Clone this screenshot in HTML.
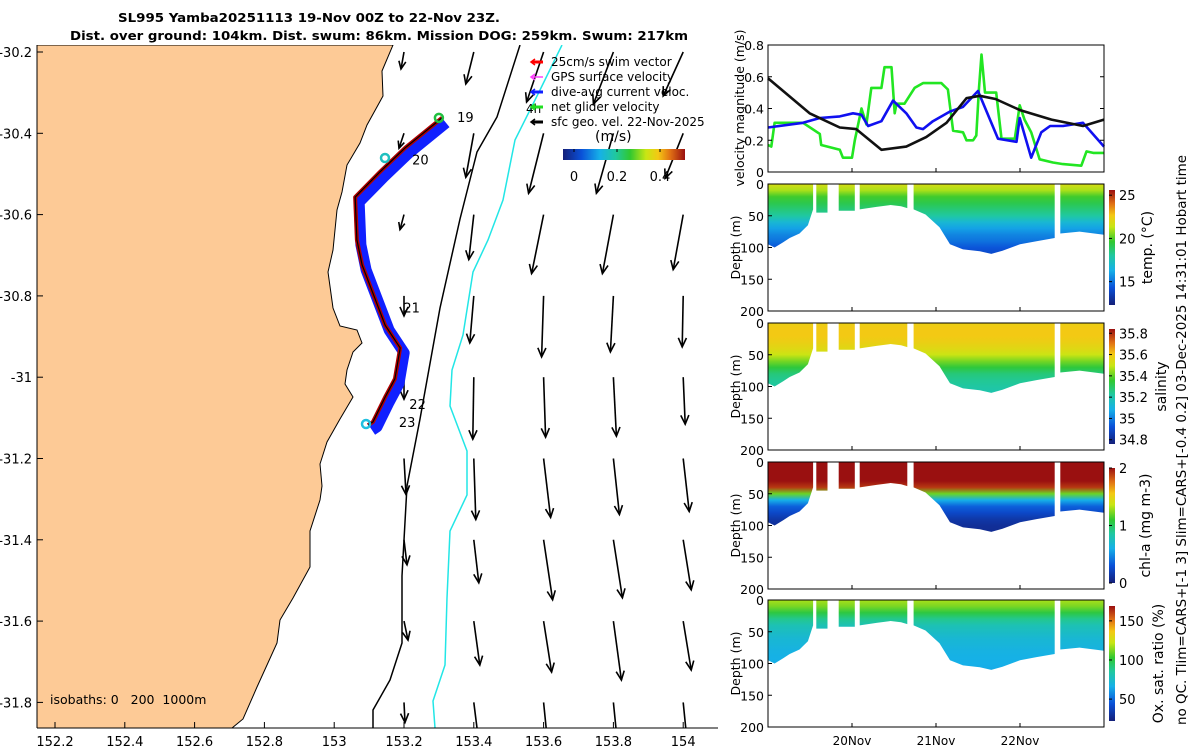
<!DOCTYPE html>
<html><head><meta charset="utf-8"><style>
html,body{margin:0;padding:0;background:#fff;}
svg{display:block;font-family:"DejaVu Sans","Liberation Sans",sans-serif;}
</style></head><body>
<svg id="fig" width="1200" height="750" viewBox="0 0 1200 750">
<defs>
<clipPath id="mapclip"><rect x="37" y="45" width="681" height="683"/></clipPath>
</defs>
<g font-weight="bold" font-size="12.5">
<text x="118" y="22" textLength="382" lengthAdjust="spacingAndGlyphs">SL995 Yamba20251113 19-Nov 00Z to 22-Nov 23Z.</text>
<text x="70" y="40" textLength="618" lengthAdjust="spacingAndGlyphs">Dist. over ground: 104km. Dist. swum: 86km. Mission DOG: 259km. Swum: 217km</text>
</g>
<g id="map"></g>
<g id="right"></g>
</svg>
<script>
const NS='http://www.w3.org/2000/svg';
function mk(tag,attrs,parent,txt){const e=document.createElementNS(NS,tag);for(const k in attrs)e.setAttribute(k,attrs[k]);if(txt!==undefined)e.textContent=txt;parent.appendChild(e);return e;}

// ---------------- DATA ----------------
const mapLonTicks=[152.2,152.4,152.6,152.8,153,153.2,153.4,153.6,153.8,154];
const mapLatTicks=[-30.2,-30.4,-30.6,-30.8,-31,-31.2,-31.4,-31.6,-31.8];
const arrowLons=[153.2,153.4,153.6,153.8,154.0];
const arrowLats=[-30.2,-30.4,-30.6,-30.8,-31,-31.2,-31.4,-31.6,-31.8];
const arrowU=[
[-0.03,-0.08,-0.17,-0.20,-0.20],
[-0.05,-0.08,-0.15,-0.17,-0.18],
[-0.04,-0.05,-0.12,-0.11,-0.10],
[0.00,-0.04,-0.02,-0.03,-0.01],
[0.00,-0.01,0.02,0.03,0.02],
[0.02,0.02,0.07,0.06,0.06],
[0.03,0.05,0.09,0.09,0.08],
[0.04,0.06,0.08,0.08,0.08],
[0.01,0.05,0.04,0.04,0.04]];
const arrowV=[
[-0.17,-0.32,-0.50,-0.52,-0.44],
[-0.15,-0.44,-0.60,-0.60,-0.45],
[-0.15,-0.45,-0.59,-0.59,-0.55],
[-0.20,-0.47,-0.61,-0.56,-0.51],
[-0.22,-0.62,-0.60,-0.59,-0.47],
[-0.36,-0.61,-0.59,-0.56,-0.53],
[-0.25,-0.43,-0.60,-0.58,-0.50],
[-0.19,-0.44,-0.51,-0.59,-0.49],
[-0.20,-0.40,-0.40,-0.40,-0.40]];
const trackLon=[153.309,153.203,153.131,153.060,153.065,153.080,153.146,153.189,153.174,153.146,153.111,153.097];
const trackLat=[-30.362,-30.436,-30.495,-30.557,-30.662,-30.724,-30.872,-30.928,-31.004,-31.049,-31.110,-31.118];
const dayLabels=['19','20','21','22','23'];
const dayLon=[153.335,153.206,153.181,153.198,153.168];
const dayLat=[-30.360,-30.465,-30.828,-31.066,-31.110];

// coast & isobaths (pixel geometry of the basemap)
const coastX=[393,382,383,367,360,347,342,337,333,328,333,340,357,362,353,347,345,353,340,327,320,322,320,310,310,293,280,277,267,257,243,232];
const coastY=[45,71,96,125,143,165,192,210,250,272,308,326,330,343,352,370,384,397,419,442,464,486,500,531,567,598,620,643,665,687,719,728];
const iso200X=[520,497,477,460,440,420,407,402,402,390,373,373];
const iso200Y=[45,117,152,219,308,419,486,576,643,680,710,728];
const iso1000X=[562,540,515,503,488,473,463,452,450,467,467,450,447,445,433,435];
const iso1000Y=[45,90,140,200,240,272,335,370,406,451,495,531,598,665,701,728];

// velocity magnitude time series (hours since 19-Nov 00Z)
const blackT=[0,11.9,20.5,25.2,32.4,39.5,45.2,51,56.7,60.5,65,72,81,90,96];
const blackV=[0.59,0.37,0.28,0.27,0.14,0.16,0.22,0.31,0.465,0.48,0.46,0.39,0.33,0.29,0.33];
const blueT=[0,10,14.8,20.5,24.3,26.7,28.6,32.4,35.7,39.5,42.4,44.3,47.1,51.9,55.7,60,65.7,71,71.9,75.2,78.1,80.6,84.3,90,96];
const blueV=[0.28,0.31,0.34,0.35,0.37,0.36,0.29,0.32,0.45,0.37,0.28,0.27,0.32,0.38,0.41,0.51,0.21,0.19,0.34,0.09,0.25,0.29,0.29,0.31,0.16];
const greenT=[0,0.95,1.9,10,14.8,15.2,20.5,21.4,24,24.8,26.7,28.1,29.5,32.4,33.3,35.3,36.2,36.7,39,41.9,44.3,49.5,51.4,52.9,55.7,56.7,58.6,59.5,60.3,61,62,65.2,66.7,70.5,71.9,73.3,75.2,77.6,81.4,84.3,89.5,91,92.9,96];
const greenV=[0.17,0.16,0.31,0.31,0.24,0.17,0.14,0.09,0.09,0.2,0.40,0.3,0.53,0.53,0.66,0.66,0.37,0.43,0.43,0.53,0.56,0.56,0.52,0.26,0.25,0.2,0.2,0.23,0.53,0.74,0.50,0.50,0.21,0.21,0.42,0.33,0.25,0.08,0.06,0.05,0.04,0.13,0.12,0.12];

// profile envelope segments (hours, max depth m)
const segT=[[0,1.9,4.3,6.2,9,11.4,12.9],[13.8,17],[20.2,24.8],[26.2,31,35,38,39.8],[41.6,45,49,52,55.7,60.5,63.8,67,72,76.7,81.9],[83.5,89,96]];
const segD=[[95,100,92,85,78,65,40],[45,45],[42,42],[40,36,33,35,38],[40,48,68,95,103,106,110,105,95,90,85],[78,75,80]];
// mean vertical profiles per variable
const profDepth=[0,10,20,30,40,50,60,70,80,90,100,110];
const tempVals=[21.8,21.0,19.8,19.2,18.6,18.0,16.8,16.0,15.4,15.0,14.4,14.0];
const salVals=[35.58,35.60,35.60,35.58,35.55,35.50,35.42,35.34,35.27,35.24,35.22,35.20];
const chlVals=[2,2,2,2,1.9,1.2,0.6,0.35,0.25,0.15,0.1,0.08];
const oxyVals=[118,112,100,88,80,76,72,70,68,67,66,65];

// ---------------- MAP ----------------
const map=document.getElementById('map');
const X=lon=>55+(lon-152.2)*349;
const Y=lat=>52+(-30.2-lat)*406.5;
const mg=mk('g',{'clip-path':'url(#mapclip)'},map);
let d='M37,45 L'+coastX[0]+','+coastY[0];
for(let i=1;i<coastX.length;i++)d+=' L'+coastX[i]+','+coastY[i];
d+=' L37,728 Z';
const land=mk('path',{d:d,fill:'#fdca96',stroke:'#000','stroke-width':1},mg);


function poly(xs,ys,col,name){let p='';for(let i=0;i<xs.length;i++)p+=(i?' ':'')+xs[i]+','+ys[i];const e=mk('polyline',{points:p,fill:'none',stroke:col,'stroke-width':1.5},mg);}
poly(iso200X,iso200Y,'#000','isobath-200m');
poly(iso1000X,iso1000Y,'#22e6e6','isobath-1000m');
const SCL=100;
function arrow(x0,y0,dx,dy,parent,w){
 const g=mk('g',{stroke:'#000','stroke-width':w||1.6,fill:'none'},parent);
 mk('line',{x1:x0,y1:y0,x2:x0+dx,y2:y0+dy},g);
 const L=Math.hypot(dx,dy)||1,ux=dx/L,uy=dy/L,h=Math.min(9,L*0.45);
 const bx=x0+dx-ux*h,by=y0+dy-uy*h;
 mk('polyline',{points:(bx-uy*h*0.45)+','+(by+ux*h*0.45)+' '+(x0+dx)+','+(y0+dy)+' '+(bx+uy*h*0.45)+','+(by-ux*h*0.45)},g);
 return g;
}
for(let r=0;r<arrowLats.length;r++)for(let c=0;c<arrowLons.length;c++){
 const a=arrow(X(arrowLons[c]),Y(arrowLats[r]),arrowU[r][c]*SCL,-arrowV[r][c]*SCL,mg);
 
 
}
let tp='';for(let i=0;i<trackLon.length;i++)tp+=(i?' ':'')+(X(trackLon[i])+4)+','+(Y(trackLat[i])+5);
const tb=mk('polyline',{points:tp,fill:'none',stroke:'#1020ff','stroke-width':11,'stroke-linejoin':'round'},mg);


tp='';for(let i=0;i<trackLon.length;i++)tp+=(i?' ':'')+X(trackLon[i])+','+Y(trackLat[i]);
const tr=mk('polyline',{points:tp,fill:'none',stroke:'#b00000','stroke-width':4,'stroke-linejoin':'round'},mg);


const tk=mk('polyline',{points:tp,fill:'none',stroke:'#000','stroke-width':1.2},mg);


for(let i=0;i<dayLabels.length;i++){
 const t=mk('text',{x:X(dayLon[i])+6,y:Y(dayLat[i])+5,'font-size':13},mg,dayLabels[i]);
 
 
}
const c1=mk('circle',{cx:X(153.3),cy:Y(-30.362),r:4,fill:'none',stroke:'#20c040','stroke-width':2.5},mg);


const c2=mk('circle',{cx:385,cy:158,r:4,fill:'none',stroke:'#20c0c0','stroke-width':2.5},mg);


const c3=mk('circle',{cx:366,cy:424,r:4,fill:'none',stroke:'#20c0e0','stroke-width':2.5},mg);


const t4=mk('text',{x:526,y:113,'font-size':12},mg,'4h');


const iso=mk('text',{x:50,y:704,'font-size':12.5},mg,'isobaths: 0\u00a0\u00a0\u00a0200\u00a0\u00a01000m');


const legTxt=['25cm/s swim vector','GPS surface velocity','dive-avg current veloc.','net glider velocity','sfc geo. vel. 22-Nov-2025'];
const legCol=['#ff0000','#ff40ff','#1020ff','#20e020','#000'];
for(let i=0;i<legTxt.length;i++){
 const y=62+i*15;
 const g=mk('g',{},map);
 
 
 mk('line',{x1:532,y1:y,x2:543,y2:y,stroke:legCol[i],'stroke-width':i==1?1.5:3},g);
 mk('polyline',{points:'535,'+(y-3)+' 531,'+y+' 535,'+(y+3),fill:'none',stroke:legCol[i],'stroke-width':1.5},g);
 mk('text',{x:551,y:y+4,'font-size':12},g,legTxt[i]);
}
const cmapStops=[[0,'#141f78'],[0.15,'#0a50d8'],[0.3,'#16b0e8'],[0.43,'#20c8a0'],[0.55,'#30c830'],[0.68,'#c8e614'],[0.78,'#f4c814'],[0.88,'#e07014'],[1,'#9a1010']];
const defs=document.querySelector('defs');
function cbarGrad(id,vertical){const g=mk('linearGradient',{id:id,x1:0,y1:vertical?1:0,x2:vertical?0:1,y2:0},defs);cmapStops.forEach(s=>mk('stop',{offset:s[0],'stop-color':s[1]},g));}
cbarGrad('cbh',false);cbarGrad('cbv',true);
const cbm=mk('g',{},map);


mk('rect',{x:563,y:149,width:122,height:11,fill:'url(#cbh)'},cbm);
mk('text',{x:595,y:141,'font-size':14},cbm,'(m/s)');
const cbTicks=[0,0.2,0.4],cbLab=['0','0.2','0.4'];
cbTicks.forEach((v,i)=>{const x=574+v/0.4*86;mk('line',{x1:x,y1:149,x2:x,y2:152,stroke:'#000'},cbm);mk('text',{x:x,y:181,'font-size':13,'text-anchor':'middle'},cbm,cbLab[i]);});
const ax=mk('g',{'font-size':13},map);


mk('line',{x1:37,y1:45,x2:37,y2:728,stroke:'#000'},ax);
mk('line',{x1:37,y1:728,x2:718,y2:728,stroke:'#000'},ax);
mapLonTicks.forEach(v=>{const x=X(v);mk('line',{x1:x,y1:728,x2:x,y2:722,stroke:'#000'},ax);const t=mk('text',{x:x,y:746,'text-anchor':'middle'},ax,String(v));});
mapLatTicks.forEach(v=>{const y=Y(v);mk('line',{x1:37,y1:y,x2:43,y2:y,stroke:'#000'},ax);const t=mk('text',{x:32,y:y+5,'text-anchor':'end'},ax,String(v));});

// ---------------- RIGHT PANELS ----------------
const R=document.getElementById('right');
const PX0=768,PX1=1104;
const TX=t=>PX0+t/96*(PX1-PX0);
const dayTicks=[24,48,72],dayTickLab=['20Nov','21Nov','22Nov'];
const vp=mk('g',{'font-size':12},R);


const VY=v=>172-v*158.75;
function vline(T,V,col,name){let p='';for(let i=0;i<T.length;i++)p+=(i?' ':'')+TX(T[i]).toFixed(1)+','+VY(V[i]).toFixed(1);const e=mk('polyline',{points:p,fill:'none',stroke:col,'stroke-width':2.6,'stroke-linejoin':'round'},vp);}
vline(greenT,greenV,'#22e622','net-glider-velocity-line');
vline(blueT,blueV,'#1010f0','dive-avg-current-line');
vline(blackT,blackV,'#111','sfc-geo-velocity-line');
mk('rect',{x:PX0,y:45,width:PX1-PX0,height:127,fill:'none',stroke:'#000'},vp);
[0,0.2,0.4,0.6,0.8].forEach(v=>{const y=VY(v);mk('line',{x1:PX0,y1:y,x2:PX0+4,y2:y,stroke:'#000'},vp);mk('line',{x1:PX1,y1:y,x2:PX1-4,y2:y,stroke:'#000'},vp);mk('text',{x:PX0-4,y:y+5,'text-anchor':'end','font-size':12.5},vp,String(v));});
dayTicks.forEach(t=>{mk('line',{x1:TX(t),y1:172,x2:TX(t),y2:168,stroke:'#000'},vp);});
mk('text',{transform:'translate(744,108) rotate(-90)','text-anchor':'middle','font-size':12.5},vp,'velocity magnitude (m/s)');

function cmapColor(f){f=Math.max(0,Math.min(1,f));for(let i=1;i<cmapStops.length;i++){if(f<=cmapStops[i][0]){const a=cmapStops[i-1],b=cmapStops[i];const u=(f-a[0])/(b[0]-a[0]);const pa=parseInt(a[1].slice(1),16),pb=parseInt(b[1].slice(1),16);const ch=s=>Math.round(((pa>>s)&255)*(1-u)+((pb>>s)&255)*u);return 'rgb('+ch(16)+','+ch(8)+','+ch(0)+')';}}return cmapStops[cmapStops.length-1][1];}

const panels=[
 {top:184,vals:tempVals,lo:12.3,hi:25.6,ticks:[15,20,25],lab:'temp. (°C)',labX:1152,name:'temperature'},
 {top:323,vals:salVals,lo:34.76,hi:35.84,ticks:[34.8,35,35.2,35.4,35.6,35.8],lab:'salinity',labX:1166,name:'salinity'},
 {top:462,vals:chlVals,lo:0,hi:2,ticks:[0,1,2],lab:'chl-a (mg m-3)',labX:1150,name:'chlorophyll'},
 {top:600,vals:oxyVals,lo:22,hi:169,ticks:[50,100,150],lab:'Ox. sat. ratio (%)',labX:1163,name:'oxygen'}];
const PH=127;
panels.forEach((P,pi)=>{
 const g=mk('g',{'font-size':12.5},R);
 
 
 const DY=dm=>P.top+dm/200*PH;
 const gid='pg'+pi;
 const gr=mk('linearGradient',{id:gid,gradientUnits:'userSpaceOnUse',x1:0,y1:DY(0),x2:0,y2:DY(profDepth[profDepth.length-1])},defs);
 profDepth.forEach((dm,i)=>mk('stop',{offset:dm/profDepth[profDepth.length-1],'stop-color':cmapColor((P.vals[i]-P.lo)/(P.hi-P.lo))},gr));
 segT.forEach((T,si)=>{
  let p='M'+TX(T[0]).toFixed(1)+','+DY(0);
  for(let i=0;i<T.length;i++)p+=' L'+TX(T[i]).toFixed(1)+','+DY(segD[si][i]).toFixed(1);
  p+=' L'+TX(T[T.length-1]).toFixed(1)+','+DY(0)+' Z';
  const s=mk('path',{d:p,fill:'url(#'+gid+')'},g);
  
  
 });
 mk('rect',{x:PX0,y:P.top,width:PX1-PX0,height:PH,fill:'none',stroke:'#000'},g);
 [0,50,100,150,200].forEach(v=>{const y=DY(v);mk('line',{x1:PX0,y1:y,x2:PX0+4,y2:y,stroke:'#000'},g);mk('text',{x:PX0-4,y:y+5,'text-anchor':'end'},g,String(v));});
 dayTicks.forEach(t=>{mk('line',{x1:TX(t),y1:P.top+PH,x2:TX(t),y2:P.top+PH-4,stroke:'#000'},g);});
 mk('text',{transform:'translate(740,'+(P.top+PH/2)+') rotate(-90)','text-anchor':'middle'},g,'Depth (m)');
 const cb=mk('g',{},g);
 
 
 const cy0=P.top+6,cy1=P.top+PH-6;
 mk('rect',{x:1109,y:cy0,width:6,height:cy1-cy0,fill:'url(#cbv)'},cb);
 P.ticks.forEach(v=>{const y=cy1-(v-P.lo)/(P.hi-P.lo)*(cy1-cy0);mk('line',{x1:1109,y1:y,x2:1112,y2:y,stroke:'#000'},cb);mk('text',{x:1119,y:y+5,'font-size':13},cb,String(v));});
 mk('text',{transform:'translate('+P.labX+','+(P.top+PH/2)+') rotate(-90)','text-anchor':'middle','font-size':14},cb,P.lab);
});
dayTicks.forEach((t,i)=>{const e=mk('text',{x:TX(t),y:745,'text-anchor':'middle','font-size':12},R,dayTickLab[i]);});
const note=mk('text',{transform:'translate(1186,725) rotate(-90)','font-size':13.5,textLength:570,lengthAdjust:'spacingAndGlyphs'},R,'no QC. Tlim=CARS+[-1 3] Slim=CARS+[-0.4 0.2] 03-Dec-2025 14:31:01 Hobart time');


</script>
</body></html>
